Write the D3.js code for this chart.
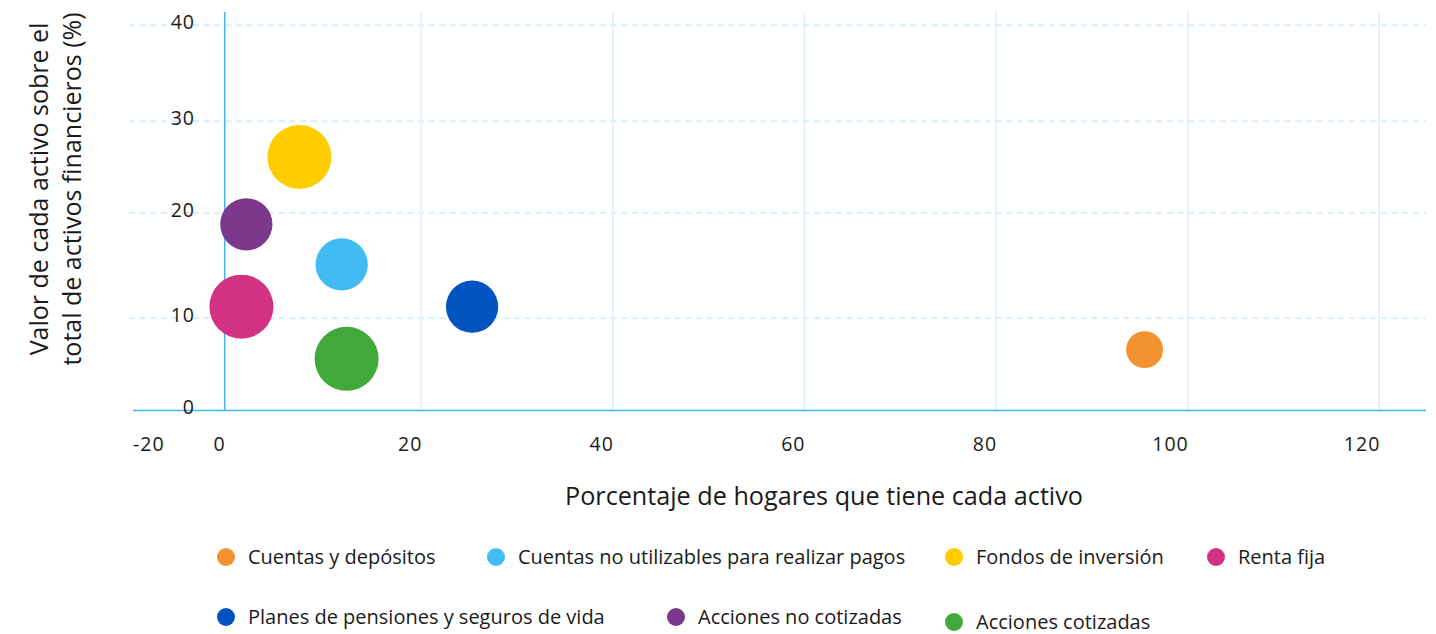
<!DOCTYPE html>
<html lang="es">
<head>
<meta charset="utf-8">
<script src="https://cdn.jsdelivr.net/npm/d3@7"></script>
<style>
  html, body { margin: 0; padding: 0; background: #ffffff; }
  svg { display: block; font-family: "Open Sans", Lato, sans-serif; }
</style>
</head>
<body>
<svg id="chart" width="1436" height="634"></svg>
<script>
// Activos financieros de los hogares
const categories = [
  "Cuentas y depósitos",
  "Cuentas no utilizables para realizar pagos",
  "Fondos de inversión",
  "Renta fija",
  "Planes de pensiones y seguros de vida",
  "Acciones no cotizadas",
  "Acciones cotizadas"
];
// % de hogares que tiene cada activo
const pctHogares = [95.5, 11.9, 7.6, 1.7, 25.3, 2.2, 12.4];
// valor del activo sobre el total de activos financieros (%)
const valorActivo = [6.6, 15.1, 26.1, 11.1, 11.1, 18.9, 5.6];
// tamaño relativo de cada burbuja
const bubbleSize = [1, 2, 3, 3, 2, 2, 3];
const colors = ["#f29330", "#42bbf3", "#ffcc00", "#d13382", "#0353c0", "#7b388c", "#41a83a"];

const xTicks = [-20, 0, 20, 40, 60, 80, 100, 120];
const yTicks = [0, 10, 20, 30, 40];

const svg = d3.select("#chart");

const plotLeft = 129, plotRight = 1426, plotTop = 12;

const x = d3.scaleLinear()
  .domain([-20, 0, 20, 120])
  .range([133, 224.7, 421.3, 1379.3]);

const y = d3.scaleLinear()
  .domain([0, 10, 20, 30, 40])
  .range([410.5, 318.3, 212.7, 121.3, 25.3]);

const r = d3.scaleSqrt().domain([0, 3]).range([0, 32]);

// horizontal dashed grid
svg.append("g")
  .selectAll("line")
  .data(yTicks.filter(d => d > 0))
  .join("line")
  .attr("x1", plotLeft).attr("x2", plotRight)
  .attr("y1", d => y(d)).attr("y2", d => y(d))
  .attr("stroke", "#d8eefa")
  .attr("stroke-width", 2)
  .attr("stroke-dasharray", "6 4.7");

// vertical grid
svg.append("g")
  .selectAll("line")
  .data(xTicks.filter(d => d > 0))
  .join("line")
  .attr("x1", d => x(d)).attr("x2", d => x(d))
  .attr("y1", plotTop).attr("y2", y(0))
  .attr("stroke", "#dcf0fb")
  .attr("stroke-width", 1.6);

// zero line
svg.append("line")
  .attr("x1", x(0)).attr("x2", x(0))
  .attr("y1", plotTop).attr("y2", y(0))
  .attr("stroke", "#45b5ee")
  .attr("stroke-width", 1.6);

// x axis line
svg.append("line")
  .attr("x1", x(-20)).attr("x2", plotRight)
  .attr("y1", y(0)).attr("y2", y(0))
  .attr("stroke", "#45b5ee")
  .attr("stroke-width", 1.6);

// y tick labels
svg.append("g")
  .selectAll("text")
  .data(yTicks)
  .join("text")
  .attr("x", 195)
  .attr("y", d => y(d) - 3)
  .attr("dy", "0.35em")
  .attr("text-anchor", "end")
  .attr("font-size", 19.5)
  .attr("letter-spacing", 1)
  .attr("fill", "#1a1a1a")
  .text(d => d);

// x tick labels
svg.append("g")
  .selectAll("text")
  .data(xTicks)
  .join("text")
  .attr("x", (d, i) => i === 0 ? x(d) : x(d) + 1)
  .attr("y", 451)
  .attr("text-anchor", (d, i) => i === 0 ? "start" : "end")
  .attr("font-size", 19.5)
  .attr("letter-spacing", 1)
  .attr("fill", "#1a1a1a")
  .text(d => d);

// axis titles
svg.append("text")
  .attr("x", 824)
  .attr("y", 505)
  .attr("text-anchor", "middle")
  .attr("font-size", 25.2)
  .attr("fill", "#1a1a1a")
  .text("Porcentaje de hogares que tiene cada activo");

const yTitle = svg.append("text")
  .attr("transform", "translate(0,189) rotate(-90)")
  .attr("text-anchor", "middle")
  .attr("font-size", 25)
  .attr("fill", "#1a1a1a");
yTitle.append("tspan").attr("x", 0).attr("y", 48).text("Valor de cada activo sobre el");
yTitle.append("tspan").attr("x", 0).attr("y", 81).text("total de activos financieros (%)");

// bubbles
svg.append("g")
  .selectAll("circle")
  .data(categories)
  .join("circle")
  .attr("cx", (d, i) => x(pctHogares[i]))
  .attr("cy", (d, i) => y(valorActivo[i]))
  .attr("r", (d, i) => r(bubbleSize[i]))
  .attr("fill", (d, i) => colors[i]);

// legend
const legendSlots = [[226, 557], [496, 557], [954, 557], [1216, 557], [226, 617], [676, 617], [954, 622]];
const legend = svg.append("g")
  .selectAll("g")
  .data(categories)
  .join("g")
  .attr("transform", (d, i) => `translate(${legendSlots[i][0]},${legendSlots[i][1]})`);
legend.append("circle")
  .attr("r", 9)
  .attr("fill", (d, i) => colors[i]);
legend.append("text")
  .attr("x", 22)
  .attr("dy", "0.35em")
  .attr("font-size", 20)
  .attr("fill", "#1a1a1a")
  .text(d => d);
</script>
</body>
</html>
